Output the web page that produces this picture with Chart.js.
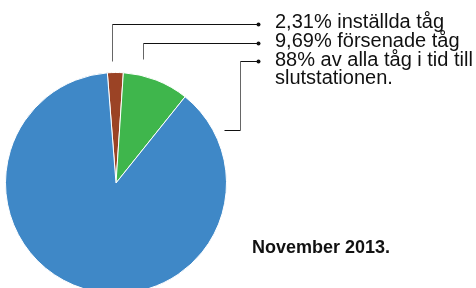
<!DOCTYPE html>
<html>
<head>
<meta charset="utf-8">
<script src="https://cdn.jsdelivr.net/npm/chart.js@4"></script>
<style>
  html, body { margin: 0; padding: 0; background: #fff; overflow: hidden; }
  #wrap { width: 476px; height: 300px; }
</style>
</head>
<body>
<div id="wrap"><canvas id="chart" width="476" height="300"></canvas></div>
<script>
// slice data, in drawing order (clockwise from the top)
const categories = ['Inställda tåg', 'Försenade tåg', 'I tid till slutstationen'];
const values = [2.31, 9.69, 88];
const colors = ['#9b4325', '#3fb64c', '#3f88c7'];

// legend text, one array of lines per slice
const labelLines = [
  ['2,31% inställda tåg'],
  ['9,69% försenade tåg'],
  ['88% av alla tåg i tid till', 'slutstationen.']
];
const caption = 'November 2013.';

// leader lines: [x, y] points from the pie to the label dot
const leaders = [
  [[112, 61], [112, 24], [258, 24]],
  [[143, 59], [143, 43], [258, 43]],
  [[224, 130], [240, 130], [240, 61], [258, 61]]
];

const annotate = {
  id: 'annotate',
  afterDraw(chart) {
    const ctx = chart.ctx;
    ctx.save();
    leaders.forEach(pts => {
      ctx.lineWidth = 1;
      for (let i = 1; i < pts.length; i++) {
        const [x0, y0] = pts[i - 1];
        const [x1, y1] = pts[i];
        ctx.strokeStyle = x0 === x1 ? '#666' : '#111';
        ctx.beginPath();
        ctx.moveTo(Math.round(x0) + 0.5, Math.round(y0) + 0.5);
        ctx.lineTo(Math.round(x1) + 0.5, Math.round(y1) + 0.5);
        ctx.stroke();
      }
      const end = pts[pts.length - 1];
      ctx.fillStyle = '#111';
      ctx.beginPath();
      ctx.arc(end[0] + 0.5, end[1] + 0.5, 2, 0, Math.PI * 2);
      ctx.fill();
    });

    ctx.fillStyle = '#111';
    ctx.font = '20px "Liberation Sans", Arial, sans-serif';
    ctx.textBaseline = 'alphabetic';
    let y = 28;
    labelLines.forEach(lines => {
      lines.forEach(line => {
        ctx.fillText(line, 275, y);
        y += 18.8;
      });
    });

    ctx.font = 'bold 18px "Liberation Sans", Arial, sans-serif';
    ctx.fillText(caption, 252, 253);
    ctx.restore();
  }
};

new Chart(document.getElementById('chart'), {
  type: 'pie',
  data: {
    labels: categories,
    datasets: [{
      data: values,
      backgroundColor: colors,
      borderColor: '#fff',
      borderWidth: 1
    }]
  },
  options: {
    responsive: false,
    animation: false,
    rotation: -4.5,
    layout: { padding: { left: 5, top: 72, right: 249, bottom: 6 } },
    plugins: {
      legend: { display: false },
      tooltip: { enabled: false }
    }
  },
  plugins: [annotate]
});
</script>
</body>
</html>
